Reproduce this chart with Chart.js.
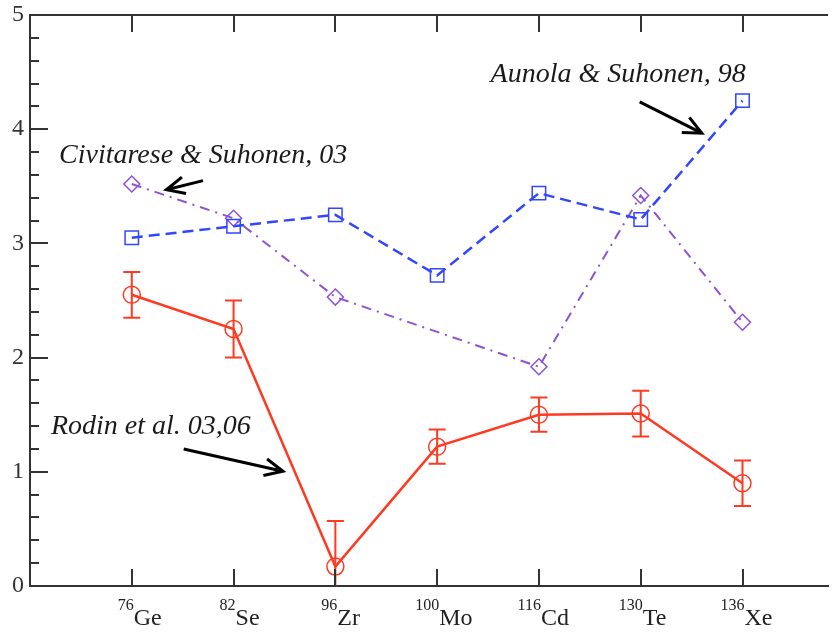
<!DOCTYPE html>
<html>
<head>
<meta charset="utf-8">
<script src="https://cdn.jsdelivr.net/npm/chart.js@4/dist/chart.umd.min.js"></script>
<style>
  html, body { margin: 0; padding: 0; background: #fff; overflow: hidden; }
  canvas { display: block; }
</style>
</head>
<body>
<canvas id="chart" width="833" height="634"></canvas>
<script>
// Nuclear matrix elements per isotope — three calculations

const isotopes = ['Ge', 'Se', 'Zr', 'Mo', 'Cd', 'Te', 'Xe'];
const massNumbers = ['76', '82', '96', '100', '116', '130', '136'];

const rodin = [2.55, 2.25, 0.17, 1.22, 1.50, 1.51, 0.90];
const rodinLow = [2.35, 2.00, -0.23, 1.07, 1.35, 1.31, 0.70];
const rodinHigh = [2.75, 2.50, 0.57, 1.37, 1.65, 1.71, 1.10];
const aunola = [3.05, 3.15, 3.25, 2.72, 3.44, 3.21, 4.25];
const civitarese = [3.52, 3.22, 2.53, null, 1.92, 3.42, 2.31];

const yTicks = [0, 1, 2, 3, 4, 5];

// annotations, in data units (x: isotope index from 1)
const noteTexts = ['Civitarese & Suhonen, 03', 'Aunola & Suhonen, 98', 'Rodin et al. 03,06'];
const noteAt = [[0.285, 3.70], [4.525, 4.41], [0.206, 1.33]];
const arrowFrom = [[1.70, 3.55], [5.99, 4.24], [1.51, 1.20]];
const arrowTo = [[1.34, 3.47], [6.60, 3.965], [2.485, 1.005]];

const AXIS = '#333';
const RED = '#ff3a22';
const BLUE = '#3046ff';
const PURPLE = '#8c52d6';
const SERIF = '"Liberation Serif", "Times New Roman", serif';

const pts = (arr) => arr.map((v, i) => ({ x: i + 1, y: v }));

function drawArrow(ctx, x0, y0, x1, y1) {
  const ang = Math.atan2(y1 - y0, x1 - x0);
  const len = 20, spread = 25 * Math.PI / 180;
  ctx.beginPath();
  ctx.moveTo(x0, y0);
  ctx.lineTo(x1, y1);
  ctx.moveTo(x1 - len * Math.cos(ang - spread), y1 - len * Math.sin(ang - spread));
  ctx.lineTo(x1, y1);
  ctx.lineTo(x1 - len * Math.cos(ang + spread), y1 - len * Math.sin(ang + spread));
  ctx.stroke();
}

const errorBars = {
  id: 'errorBars',
  afterDatasetsDraw(chart) {
    const { ctx, chartArea: a, scales: { x, y } } = chart;
    ctx.save();
    ctx.beginPath();
    ctx.rect(a.left, a.top, a.right - a.left, a.bottom - a.top);
    ctx.clip();
    ctx.strokeStyle = RED;
    ctx.lineWidth = 2;
    rodin.forEach((v, i) => {
      const px = x.getPixelForValue(i + 1);
      const lo = y.getPixelForValue(rodinLow[i]);
      const hi = y.getPixelForValue(rodinHigh[i]);
      ctx.beginPath();
      ctx.moveTo(px, lo); ctx.lineTo(px, hi);
      ctx.moveTo(px - 8.5, hi); ctx.lineTo(px + 8.5, hi);
      ctx.moveTo(px - 8.5, lo); ctx.lineTo(px + 8.5, lo);
      ctx.stroke();
    });
    ctx.restore();
  },
};

const frame = {
  id: 'frame',
  afterDraw(chart) {
    const { ctx, chartArea: a, scales: { x, y } } = chart;
    ctx.save();
    ctx.strokeStyle = AXIS;
    ctx.lineWidth = 2;

    // top axis line
    ctx.beginPath();
    ctx.moveTo(a.left - 1, a.top);
    ctx.lineTo(a.right, a.top);
    ctx.stroke();

    // inward ticks on the left axis
    ctx.beginPath();
    for (let k = 0; k <= 25; k++) {
      const v = k / 5;
      const py = Math.round(y.getPixelForValue(v));
      const len = k % 5 === 0 ? 18 : 9;
      ctx.moveTo(a.left, py);
      ctx.lineTo(a.left + len, py);
    }
    // category ticks, top and bottom
    isotopes.forEach((_, i) => {
      const px = Math.round(x.getPixelForValue(i + 1));
      ctx.moveTo(px, a.top); ctx.lineTo(px, a.top + 17);
      ctx.moveTo(px, a.bottom); ctx.lineTo(px, a.bottom - 17);
    });
    ctx.stroke();

    // isotope labels with mass number as superscript
    ctx.fillStyle = '#222';
    ctx.textBaseline = 'alphabetic';
    isotopes.forEach((name, i) => {
      const px = x.getPixelForValue(i + 1) + 2;
      ctx.font = `16px ${SERIF}`;
      ctx.textAlign = 'right';
      ctx.fillText(massNumbers[i], px, a.bottom + 24);
      ctx.font = `24px ${SERIF}`;
      ctx.textAlign = 'left';
      ctx.fillText(name, px, a.bottom + 39);
    });

    // annotations
    ctx.font = `italic 28px ${SERIF}`;
    ctx.textAlign = 'left';
    ctx.fillStyle = '#1a1a1a';
    noteTexts.forEach((t, i) => {
      ctx.fillText(t, x.getPixelForValue(noteAt[i][0]), y.getPixelForValue(noteAt[i][1]));
    });
    ctx.strokeStyle = '#000';
    ctx.lineWidth = 3;
    arrowFrom.forEach((f, i) => {
      drawArrow(ctx,
        x.getPixelForValue(f[0]), y.getPixelForValue(f[1]),
        x.getPixelForValue(arrowTo[i][0]), y.getPixelForValue(arrowTo[i][1]));
    });
    ctx.restore();
  },
};

new Chart(document.getElementById('chart'), {
  type: 'line',
  data: {
    datasets: [
      {
        label: 'Rodin et al. 03,06',
        data: pts(rodin),
        borderColor: RED,
        borderWidth: 2.5,
        pointStyle: 'circle',
        pointRadius: 8.5,
        pointBorderWidth: 1.5,
        pointBorderColor: RED,
        pointBackgroundColor: 'transparent',
      },
      {
        label: 'Aunola & Suhonen, 98',
        data: pts(aunola),
        borderColor: BLUE,
        borderWidth: 2.5,
        borderDash: [11, 6],
        pointStyle: 'rect',
        pointRadius: 9.5,
        pointBorderWidth: 1.5,
        pointBorderColor: BLUE,
        pointBackgroundColor: 'transparent',
      },
      {
        label: 'Civitarese & Suhonen, 03',
        data: pts(civitarese),
        spanGaps: true,
        borderColor: PURPLE,
        borderWidth: 2,
        borderDash: [10, 6, 2, 6],
        pointStyle: 'rectRot',
        pointRadius: 8,
        pointBorderWidth: 1.5,
        pointBorderColor: PURPLE,
        pointBackgroundColor: 'transparent',
      },
    ],
  },
  options: {
    responsive: false,
    animation: false,
    layout: { autoPadding: false, padding: { top: 15, right: 5, left: 0, bottom: 0 } },
    plugins: { legend: { display: false }, tooltip: { enabled: false } },
    elements: { line: { tension: 0 } },
    scales: {
      x: {
        type: 'linear',
        min: 0,
        max: 7.84,
        grid: { display: false, drawTicks: false },
        ticks: { display: false },
        border: { display: true, color: AXIS, width: 2 },
        afterFit(s) { s.height = 48; s.paddingLeft = 0; s.paddingRight = 0; },
      },
      y: {
        min: 0,
        max: 5,
        afterBuildTicks(s) { s.ticks = yTicks.map((v) => ({ value: v })); },
        grid: { display: false, drawTicks: false },
        ticks: { color: '#333', padding: 6, font: { family: SERIF, size: 24 } },
        border: { display: true, color: AXIS, width: 2 },
        afterFit(s) { s.width = 30; s.paddingTop = 0; s.paddingBottom = 0; },
      },
    },
  },
  plugins: [errorBars, frame],
});
</script>
</body>
</html>
